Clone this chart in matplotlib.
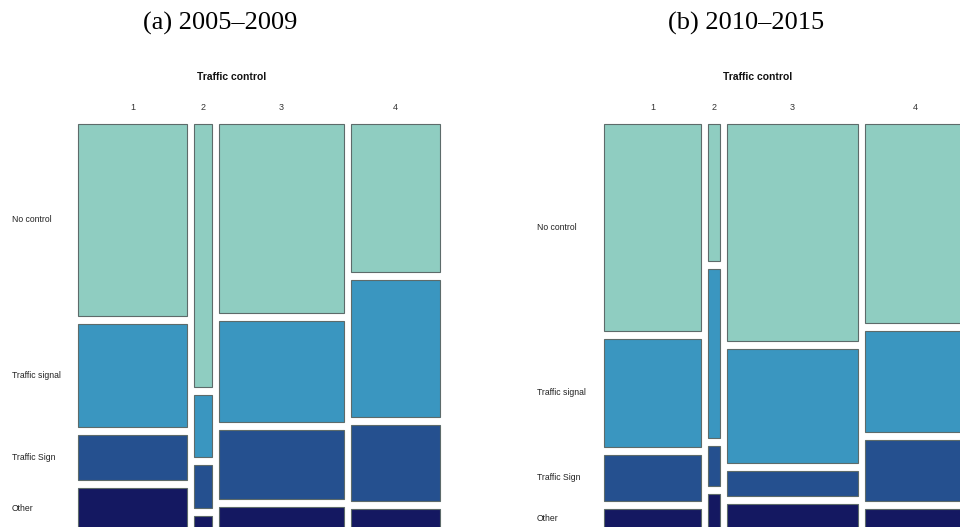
import numpy as np
import matplotlib
matplotlib.use('Agg')
import matplotlib.pyplot as plt
import matplotlib.transforms as mtransforms

plt.rcParams['font.family'] = ['Liberation Sans', 'DejaVu Sans']

# Column shares (% of crashes) by traffic control code
columns = ['1', '2', '3', '4']
col_share_a = [32.0, 5.3, 36.7, 26.1]
col_share_b = [28.5, 3.5, 38.5, 29.4]

# Row shares (%) within each column, top to bottom
rows = ['No control', 'Traffic signal', 'Traffic Sign', 'Other']
row_share_a = [
    [50.3, 27.0, 11.9, 10.8],
    [69.1, 16.2, 11.3, 3.4],
    [49.7, 26.3, 18.2, 5.8],
    [38.9, 35.8, 20.0, 5.3],
]
row_share_b = [
    [54.2, 28.4, 12.1, 5.3],
    [36.0, 44.4, 10.5, 9.2],
    [57.0, 29.9, 6.6, 6.6],
    [52.4, 26.3, 16.1, 5.3],
]

colors = ['#8fcdc1', '#3a96c0', '#25508f', '#141861']
edge = '#5d6b6a'

W, H = 960, 527
fig = plt.figure(figsize=(W / 100, H / 100), dpi=100)


def mosaic(left_px, right_px, title, title_x, header_x, label_x, col_share, row_share):
    top_px, bot_px = 124, 529
    ax = fig.add_axes([left_px / W, 1 - bot_px / H,
                       (right_px - left_px) / W, (bot_px - top_px) / H])
    gx = 7 / (right_px - left_px)
    gy = 8 / (bot_px - top_px)
    widths = np.array(col_share) / sum(col_share) * (1 - gx * (len(columns) - 1))
    x0 = 0
    centers = []
    for i, w in enumerate(widths):
        shares = np.array(row_share[i]) / sum(row_share[i]) * (1 - gy * (len(rows) - 1))
        y_top = 1.0
        for j, h in enumerate(shares):
            ax.bar(x0, h, width=w, bottom=y_top - h, align='edge',
                   color=colors[j], edgecolor=edge, linewidth=0.8, clip_on=False)
            if i == 0:
                centers.append(y_top - h / 2)
            y_top -= h + gy
        ax.annotate(columns[i], xy=(x0 + w / 2, 1), xycoords=('data', 'axes fraction'),
                    xytext=(0, 12), textcoords='offset points',
                    ha='center', va='center', fontsize=6.5, color='#333333')
        x0 += w + gx
    ax.set_xlim(0, 1)
    ax.set_ylim(0, 1)
    ax.axis('off')

    trans = mtransforms.blended_transform_factory(fig.transFigure, ax.transData)
    for name, yc in zip(rows, centers):
        ax.text(label_x / W, yc, name, transform=trans, ha='left', va='center',
                fontsize=6.2, color='#222222', clip_on=False)

    fig.text(header_x / W, 1 - 77 / H, 'Traffic control', ha='center', va='center',
             fontsize=7.5, fontweight='bold', color='#111111')
    fig.text(title_x / W, 1 - 23 / H, title, ha='center', va='center',
             fontsize=19, family='Liberation Serif')


mosaic(78, 440, '(a) 2005–2009', 220, 232, 12, col_share_a, row_share_a)
mosaic(604, 965, '(b) 2010–2015', 746, 758, 537, col_share_b, row_share_b)

plt.savefig('out.png', dpi=100)
plt.close()
